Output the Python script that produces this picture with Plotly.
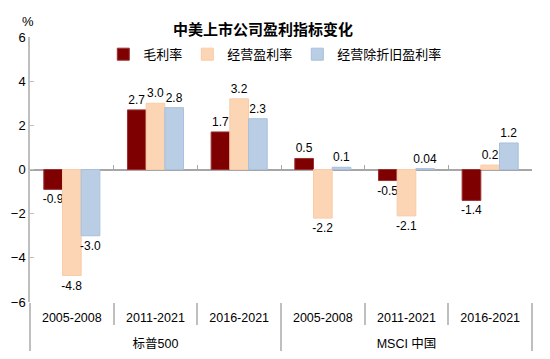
import plotly.graph_objects as go

groups = ["<br>标普500"] * 3 + ["<br>MSCI 中国"] * 3
periods = ["2005-2008", "2011-2021", "2016-2021"] * 2
series_names = ["毛利率", "经营盈利率", "经营除折旧盈利率"]
gross_margin = [-0.9, 2.7, 1.7, 0.5, -0.5, -1.4]
operating_margin = [-4.8, 3.0, 3.2, -2.2, -2.1, 0.2]
operating_ex_dep_margin = [-3.0, 2.8, 2.3, 0.1, 0.04, 1.2]
y_ticks = [-6, -4, -2, 0, 2, 4, 6]
colors = ["#7F0000", "#FCD5B5", "#B9CDE5"]
line_colors = ["#9B3030", "#F9CBA8", "#A9BFDC"]

FONT = "Arial, 'Liberation Sans', 'Noto Sans CJK SC', sans-serif"

# the page body has an 8px margin; the figure is sized to fit inside it
W, H = 534, 343


def fmt(v):
    return f"{v:.1f}" if round(v, 1) == v else f"{v:g}"


fig = go.Figure()
for name, vals, c, lc in zip(series_names,
                             [gross_margin, operating_margin, operating_ex_dep_margin],
                             colors, line_colors):
    fig.add_trace(go.Bar(
        x=[groups, periods], y=vals, name=name,
        marker=dict(color=c, line=dict(color=lc, width=1)),
        text=[fmt(v) for v in vals], textposition="outside",
        textfont=dict(size=12, color="#000000", family=FONT),
        constraintext="none", cliponaxis=False,
    ))

# helper trace for zero-line tick axis
fig.add_trace(go.Scatter(x=[None], y=[None], xaxis="x2", showlegend=False,
                         hoverinfo="skip", mode="markers"))

fig.update_layout(
    width=W, height=H,
    margin=dict(l=22, r=10, t=29, b=49, autoexpand=False),
    paper_bgcolor="white", plot_bgcolor="white",
    font=dict(family=FONT, size=12, color="#000000"),
    barmode="group", bargap=0.33, bargroupgap=0,
    title=dict(text="<b>中美上市公司盈利指标变化</b>", x=255 / W, xanchor="center",
               y=1 - 21.5 / H, yanchor="middle",
               font=dict(size=15, family=FONT, color="#000000")),
    legend=dict(orientation="h", x=0.146, xanchor="left", y=0.935, yanchor="middle",
                font=dict(size=13, family=FONT), bgcolor="rgba(0,0,0,0)",
                itemwidth=30, traceorder="normal"),
    xaxis=dict(type="multicategory", showgrid=False, zeroline=False, showline=False,
               automargin=False,
               ticks="outside", tickson="boundaries", ticklen=22, tickwidth=2,
               tickcolor="#BFBFBF", showdividers=True, dividercolor="#BFBFBF",
               dividerwidth=2, tickfont=dict(size=12.5), ticklabelstandoff=6),
    xaxis2=dict(overlaying="x", anchor="free", position=0.5, range=[-0.5, 5.5],
                tickvals=[0.5, 1.5, 2.5, 3.5, 4.5], ticks="inside", ticklen=5,
                tickcolor="#A6A6A6", showticklabels=False, showgrid=False,
                zeroline=False, showline=False, side="bottom", automargin=False),
    yaxis=dict(range=[-6, 6], tickvals=y_ticks, showgrid=False, zeroline=True,
               automargin=False,
               zerolinecolor="#A6A6A6", zerolinewidth=1.5, showline=True,
               linecolor="#BFBFBF", linewidth=1.5, ticks="inside", ticklen=4,
               tickcolor="#BFBFBF", tickfont=dict(size=13)),
    annotations=[dict(text="%", xref="paper", yref="paper", x=-0.004, y=1.058,
                      showarrow=False, font=dict(size=13, family=FONT),
                      xanchor="center", yanchor="middle")],
)

fig.write_html("out.html")
